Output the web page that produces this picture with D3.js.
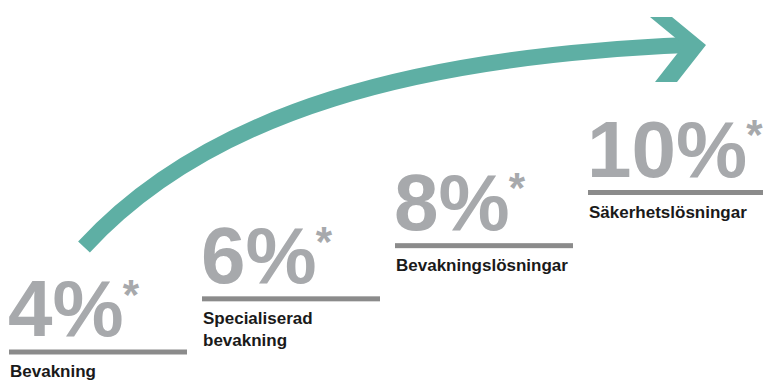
<!DOCTYPE html>
<html>
<head>
<meta charset="utf-8">
<script src="https://cdn.jsdelivr.net/npm/d3@7"></script>
<style>
  html, body { margin: 0; padding: 0; background: #ffffff; }
  svg { display: block; }
</style>
</head>
<body>
<div id="chart"></div>
<script>
// Growth steps: market growth per segment
const categories = ["Bevakning", "Specialiserad bevakning", "Bevakningslösningar", "Säkerhetslösningar"];
const labelLines = [["Bevakning"], ["Specialiserad", "bevakning"], ["Bevakningslösningar"], ["Säkerhetslösningar"]];
const values = [4, 6, 8, 10];
const valueLabels = ["4%", "6%", "8%", "10%"];
const footnoteMark = "*";

const width = 763, height = 381;
const teal = "#5eafa4";
const numberGrey = "#a7a9ac";
const ruleGrey = "#8b8b8b";

const svg = d3.select("#chart").append("svg")
  .attr("width", width)
  .attr("height", height);

// Each step moves right by one band and up in proportion to its value
const x = d3.scalePoint()
  .domain(categories)
  .range([9, 588]);

const y = d3.scaleLinear()
  .domain([4, 10])
  .range([352, 192.5]);

const stepWidth = 178;
const numFont = "'Liberation Sans', Arial, sans-serif";
const numSize = 80;

// Curved growth arrow (decoration)
const shaft = d3.path();
shaft.moveTo(84, 247);
shaft.bezierCurveTo(210, 110, 420, 56, 688, 45);
svg.append("path")
  .attr("d", shaft.toString())
  .attr("fill", "none")
  .attr("stroke", teal)
  .attr("stroke-width", 16)
  .attr("stroke-linecap", "butt");

const head = d3.path();
head.moveTo(650, 17);
head.lineTo(672, 17);
head.lineTo(706, 45);
head.lineTo(677, 82);
head.lineTo(655, 82);
head.lineTo(684, 45);
head.closePath();
svg.append("path")
  .attr("d", head.toString())
  .attr("fill", teal);

const steps = svg.selectAll("g.step")
  .data(categories.map((c, i) => ({ cat: c, v: values[i], label: valueLabels[i], lines: labelLines[i] })))
  .join("g")
  .attr("class", "step")
  .attr("transform", d => `translate(${x(d.cat)},${y(d.v)})`);

// Horizontal rule for each step
steps.append("rect")
  .attr("x", 0)
  .attr("y", -2.5)
  .attr("width", stepWidth)
  .attr("height", 5)
  .attr("fill", ruleGrey);

// Big percentage value
steps.append("text")
  .attr("x", -1)
  .attr("y", -16)
  .attr("font-family", numFont)
  .attr("font-weight", 700)
  .attr("font-size", numSize)
  .attr("fill", numberGrey)
  .text(d => d.label);

// Footnote asterisk next to each value
steps.each(function(d) {
  const g = d3.select(this);
  const w = g.select("text").node().getComputedTextLength();
  g.append("text")
    .attr("x", w - 2)
    .attr("y", -16 - numSize * 0.716 + 30)
    .attr("font-family", numFont)
    .attr("font-weight", 700)
    .attr("font-size", 42)
    .attr("fill", numberGrey)
    .text(footnoteMark);
});

// Segment name under the rule
steps.append("text")
  .attr("x", 1)
  .attr("y", 25)
  .attr("font-family", "'Liberation Sans Narrow', 'Arial Narrow', sans-serif")
  .attr("font-weight", 700)
  .attr("font-size", 17)
  .attr("fill", "#1a1a1a")
  .selectAll("tspan")
  .data(d => d.lines)
  .join("tspan")
  .attr("x", 1)
  .attr("dy", (l, i) => i === 0 ? 0 : 22)
  .text(l => l);
</script>
</body>
</html>
